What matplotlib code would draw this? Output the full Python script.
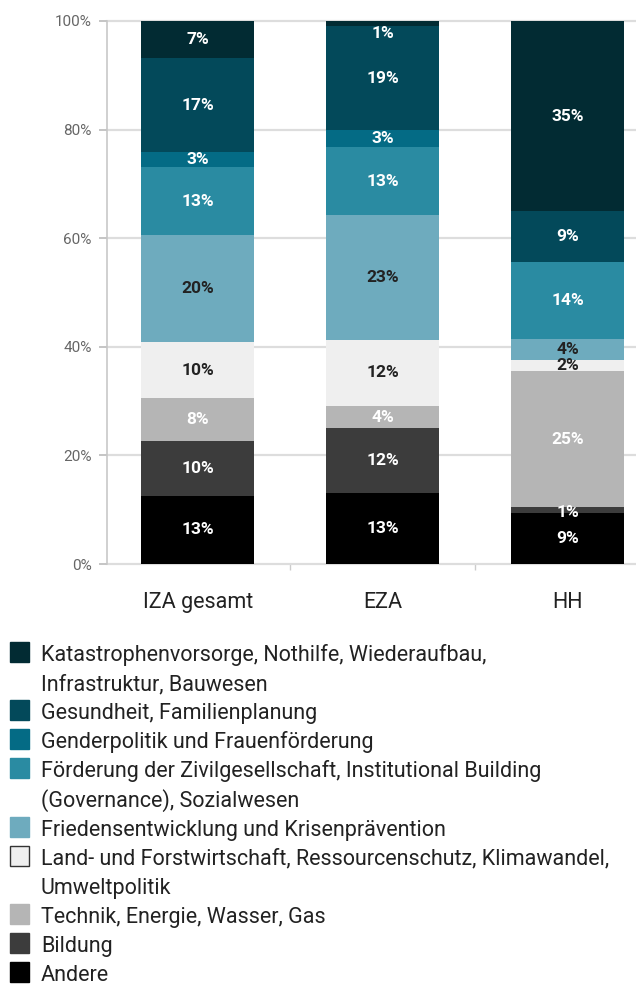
import matplotlib
matplotlib.use("Agg")
import numpy as np
import matplotlib.pyplot as plt
from matplotlib.patches import Rectangle

# data, bottom to top of each bar (percent)
groups = ["IZA gesamt", "EZA", "HH"]
sectors = [
    "Andere",
    "Bildung",
    "Technik, Energie, Wasser, Gas",
    "Land- und Forstwirtschaft, Ressourcenschutz, Klimawandel,\nUmweltpolitik",
    "Friedensentwicklung und Krisenprävention",
    "Förderung der Zivilgesellschaft, Institutional Building\n(Governance), Sozialwesen",
    "Genderpolitik und Frauenförderung",
    "Gesundheit, Familienplanung",
    "Katastrophenvorsorge, Nothilfe, Wiederaufbau,\nInfrastruktur, Bauwesen",
]
iza = [12.6, 10.1, 7.8, 10.3, 19.7, 12.6, 2.8, 17.2, 6.9]
eza = [13.1, 11.9, 4.1, 12.2, 22.9, 12.6, 3.1, 19.2, 0.9]
hh = [9.4, 1.1, 25.0, 2.1, 3.8, 14.2, 0.0, 9.4, 35.0]
yticks = [0, 20, 40, 60, 80, 100]

colors = ["#000000", "#3c3c3c", "#b5b5b5", "#efefef", "#6eabbe",
          "#2a8ba2", "#046b85", "#03495a", "#022b33"]
text_colors = ["white", "white", "white", "#222222", "#222222",
               "white", "white", "white", "white"]

FONT = ["Roboto", "DejaVu Sans"]
W, H = 636, 985

fig = plt.figure(figsize=(W / 100, H / 100), dpi=100)
ax = fig.add_axes([107 / W, 421 / H, (W - 107) / W, 543 / H])

shares = np.array([iza, eza, hh]).T
x = np.arange(len(groups))
bottom = np.zeros(len(groups))
for i in range(len(sectors)):
    bars = ax.bar(x, shares[i], 0.61, bottom=bottom, color=colors[i], zorder=3)
    labels = [f"{round(v)}%" if v > 0 else "" for v in shares[i]]
    anns = ax.bar_label(bars, labels=labels, label_type="center", color=text_colors[i],
                        fontsize=12.5, fontweight="bold", family=FONT, zorder=6)
    # tiny top segment: label sits just below the bar top
    for ann, v, b in zip(anns, shares[i], bottom):
        if 0 < v < 1.5 and b + v > 99:
            ann.xyann = (0, -7)
        elif 0 < v < 1.5:
            ann.xyann = (0, -1.5)
    bottom += shares[i]

ax.set_xlim(-0.49, 2.37)
ax.set_ylim(0, 100)
ax.set_yticks(yticks)
ax.set_yticklabels([f"{t}%" for t in yticks], family=FONT, fontsize=11, color="#666666")
ax.set_xticks(x)
ax.set_xticklabels(groups, family=FONT, fontsize=15.5, color="#222222")
ax.set_xticks([0.5, 1.5], minor=True)
ax.tick_params(axis="x", which="major", length=0, pad=20)
ax.tick_params(axis="x", which="minor", length=4, color="#cccccc", width=1)
ax.tick_params(axis="y", length=6, color="#bbbbbb", width=1.2, pad=5)

ax.yaxis.grid(True, color="#dddddd", linewidth=1.6)
for gl in ax.get_ygridlines():
    gl.set_clip_on(False)
ax.set_axisbelow(True)
for s in ["top", "right", "bottom"]:
    ax.spines[s].set_visible(False)
ax.spines["left"].set_color("#c8c8c8")
ax.spines["left"].set_linewidth(1.2)

# legend, top to bottom
line = 0
for i in range(len(sectors) - 1, -1, -1):
    base = 661 + 29.1 * line
    edge = "#333333" if colors[i] == "#efefef" else colors[i]
    fig.patches.append(Rectangle((10 / W, 1 - (base + 1) / H), 19 / W, 20 / H,
                                 transform=fig.transFigure, facecolor=colors[i],
                                 edgecolor=edge, linewidth=1))
    for part in sectors[i].split("\n"):
        fig.text(41 / W, 1 - (661 + 29.1 * line) / H, part, family=FONT,
                 fontsize=15.5, color="#222222", va="baseline", ha="left")
        line += 1

fig.savefig("out.png", dpi=100)
